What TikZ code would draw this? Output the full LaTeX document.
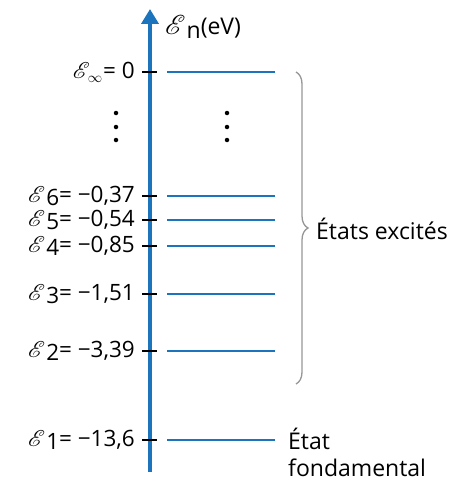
\documentclass[tikz,border=0pt]{standalone}
\usepackage{fontspec}
\usepackage{mathrsfs}
\setmainfont{Open Sans}
\usetikzlibrary{decorations.pathreplacing,arrows.meta}
\definecolor{axblue}{RGB}{28,117,188}
\definecolor{bracegrey}{RGB}{150,150,150}
\newcommand{\scrE}{\scalebox{1.1}{$\mathscr{E}$}}
\newcommand{\En}[1]{\scrE\kern1pt\raisebox{-0.3ex}{#1}}
\tikzset{
  lbl/.style={anchor=east,inner sep=0pt,font=\fontsize{22.5}{27}\selectfont},
  txt/.style={anchor=west,inner sep=0pt,font=\fontsize{23}{27}\selectfont},
  level/.style={axblue,line width=1.7pt},
  tick/.style={black,line width=1.4pt},
  vdot/.style={circle,fill=black,inner sep=0pt,minimum size=4.5pt}
}
\begin{document}
\begin{tikzpicture}[x=1pt,y=-1pt]
\useasboundingbox (0,0) rectangle (465,487);
% axis
\coordinate (axb) at (150,472);
\coordinate (axt) at (150,9);
\draw[axblue,line width=4pt,-{Triangle[length=15pt,width=17pt]}] (axb) -- (axt);
\node[txt] (axl) at (165,27) {\En{n}(eV)};
% levels
\foreach \n/\y/\t in {inf/72/{\scrE\kern-2pt\raisebox{-0.35ex}{$\scriptstyle\infty$}\kern1pt= 0},6/196/{\En{6}= −0,37},5/220/{\En{5}= −0,54},4/246/{\En{4}= −0,85},3/294/{\En{3}= −1,51},2/351/{\En{2}= −3,39},1/440/{\En{1}= −13,6}}{
  \coordinate (tl\n) at (142,\y);
  \coordinate (tr\n) at (157,\y);
  \coordinate (ls\n) at (167,\y);
  \coordinate (le\n) at (275,\y);
  \node[lbl] (lab\n) at (135,\y) {\t};
  \draw[tick] (tl\n) -- (tr\n);
  \draw[level] (ls\n) -- (le\n);
}
% dots
\foreach \y [count=\i] in {113,127,140}{
  \node[vdot] (dl\i) at (116,\y) {};
  \node[vdot] (dr\i) at (227,\y) {};
}
% brace
\coordinate (bt) at (296,72);
\coordinate (bb) at (296,384);
\draw[bracegrey,line width=1.3pt,decorate,decoration={brace,amplitude=12pt}] (bt) -- (bb);
\node[txt] (exc) at (316,229) {États excités};
\node[txt,align=left,anchor=north west] (fond) at (288,428) {État\\fondamental};
\end{tikzpicture}
\end{document}
